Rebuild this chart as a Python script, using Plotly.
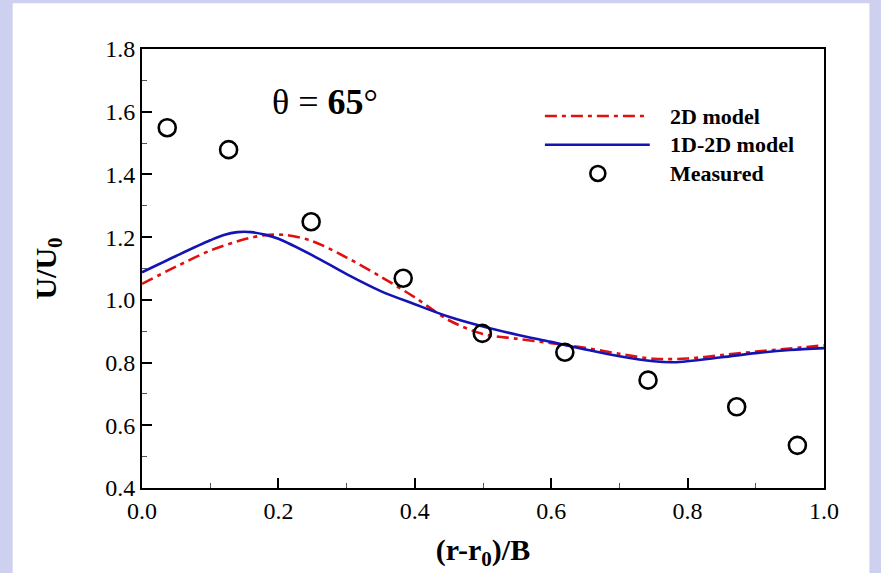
import plotly.graph_objects as go

# ---- data ----
x_1d2d = [0.0, 0.05, 0.10, 0.12, 0.14, 0.16, 0.18, 0.20, 0.25, 0.30, 0.35, 0.40, 0.45, 0.50, 0.55, 0.60, 0.65, 0.70, 0.75, 0.78, 0.85, 0.90, 0.95, 1.0]
y_1d2d = [1.088, 1.140, 1.190, 1.207, 1.216, 1.216, 1.208, 1.195, 1.142, 1.082, 1.028, 0.986, 0.946, 0.915, 0.889, 0.866, 0.842, 0.820, 0.804, 0.801, 0.817, 0.830, 0.840, 0.846]

x_2d = [0.0, 0.05, 0.10, 0.15, 0.18, 0.21, 0.25, 0.30, 0.35, 0.40, 0.45, 0.50, 0.55, 0.60, 0.65, 0.70, 0.75, 0.80, 0.85, 0.90, 0.95, 1.0]
y_2d = [1.051, 1.106, 1.157, 1.193, 1.206, 1.207, 1.187, 1.135, 1.074, 1.008, 0.935, 0.891, 0.876, 0.862, 0.847, 0.828, 0.812, 0.813, 0.824, 0.835, 0.845, 0.855]

x_meas = [0.037, 0.127, 0.248, 0.383, 0.499, 0.620, 0.742, 0.872, 0.961]
y_meas = [1.549, 1.479, 1.249, 1.069, 0.893, 0.833, 0.744, 0.659, 0.536]

x_ticks = [0.0, 0.2, 0.4, 0.6, 0.8, 1.0]
y_ticks = [0.4, 0.6, 0.8, 1.0, 1.2, 1.4, 1.6, 1.8]

legend_names = ["2D model", "1D-2D model", "Measured"]

RED = "#e01010"
BLUE = "#1414b4"
FONT = "Liberation Serif"

fig = go.Figure()
fig.add_trace(go.Scatter(x=x_2d, y=y_2d, mode="lines", name=legend_names[0],
                         line=dict(color=RED, width=2.6, dash="12px,5px,4px,5px",
                                   shape="spline", smoothing=0.9),
                         showlegend=False))
fig.add_trace(go.Scatter(x=x_1d2d, y=y_1d2d, mode="lines", name=legend_names[1],
                         line=dict(color=BLUE, width=2.6, shape="spline", smoothing=0.9),
                         showlegend=False))
fig.add_trace(go.Scatter(x=x_meas, y=y_meas, mode="markers", name=legend_names[2],
                         marker=dict(symbol="circle-open", size=17, color="black",
                                     line=dict(color="black", width=2.6)),
                         showlegend=False))

# plot-area geometry in pixels (for paper-coordinate decorations)
L, R, T, B = 141.5, 824.5, 49.3, 492.7
W, H = R - L, B - T
def px(xp):
    return (xp - L) / W
def py(yp):
    return (B - yp) / H

shapes = [
    # white slide panel over the lavender background
    dict(type="rect", xref="paper", yref="paper", x0=px(12), x1=px(870), y0=py(3), y1=py(600),
         fillcolor="white", line=dict(width=0), layer="below"),
    # legend samples
    dict(type="line", xref="paper", yref="paper", x0=px(545), x1=px(648), y0=py(117), y1=py(117),
         line=dict(color=RED, width=2.6, dash="12px,5px,4px,5px")),
    dict(type="line", xref="paper", yref="paper", x0=px(545), x1=px(650), y0=py(146), y1=py(146),
         line=dict(color=BLUE, width=2.6)),
    dict(type="circle", xref="paper", yref="paper", xsizemode="pixel", ysizemode="pixel",
         xanchor=px(598), yanchor=py(175), x0=-7.5, x1=7.5, y0=-7.5, y1=7.5,
         line=dict(color="black", width=2.6)),
]

annotations = [
    dict(xref="paper", yref="paper", x=px(668), y=py(117), xanchor="left", yanchor="middle",
         text="<b>" + legend_names[0] + "</b>", showarrow=False, font=dict(family=FONT, size=22, color="black")),
    dict(xref="paper", yref="paper", x=px(668), y=py(146), xanchor="left", yanchor="middle",
         text="<b>" + legend_names[1] + "</b>", showarrow=False, font=dict(family=FONT, size=22, color="black")),
    dict(xref="paper", yref="paper", x=px(668), y=py(175), xanchor="left", yanchor="middle",
         text="<b>" + legend_names[2] + "</b>", showarrow=False, font=dict(family=FONT, size=22, color="black")),
    dict(xref="x", yref="y", x=0.268, y=1.63, xanchor="center", yanchor="middle",
         text="θ = <b>65</b>°", showarrow=False, font=dict(family=FONT, size=36, color="black")),
]

fig.update_layout(
    width=881, height=573,
    margin=dict(l=L, r=881 - R, t=T, b=573 - B),
    paper_bgcolor="#cdd0ee",
    plot_bgcolor="white",
    font=dict(family=FONT, color="black"),
    shapes=shapes,
    annotations=annotations,
    showlegend=False,
)

fig.update_xaxes(
    range=[0, 1], tickvals=x_ticks, ticktext=[f"{v:.1f}" for v in x_ticks],
    ticks="inside", ticklen=10, tickwidth=1.5, tickcolor="black",
    minor=dict(dtick=0.1, ticks="inside", ticklen=5, tickwidth=1, tickcolor="#555"),
    showline=True, linewidth=2, linecolor="black", mirror=True,
    showgrid=False, zeroline=False,
    tickfont=dict(family=FONT, size=24),
    title=dict(text="<b>(r-r<sub>0</sub>)/B</b>", font=dict(family=FONT, size=30), standoff=16),
)
fig.update_yaxes(
    range=[0.4, 1.8], tickvals=y_ticks, ticktext=[f"{v:.1f}" for v in y_ticks],
    ticks="inside", ticklen=10, tickwidth=1.5, tickcolor="black",
    minor=dict(dtick=0.1, ticks="inside", ticklen=5, tickwidth=1, tickcolor="#555"),
    showline=True, linewidth=2, linecolor="black", mirror=True,
    showgrid=False, zeroline=False,
    tickfont=dict(family=FONT, size=24),
    title=dict(text="<b>U/U<sub>0</sub></b>", font=dict(family=FONT, size=30), standoff=40),
)

fig.write_html("out.html", config={"displayModeBar": False},
               post_script="document.body.style.margin='0px';document.body.style.overflow='hidden';")
